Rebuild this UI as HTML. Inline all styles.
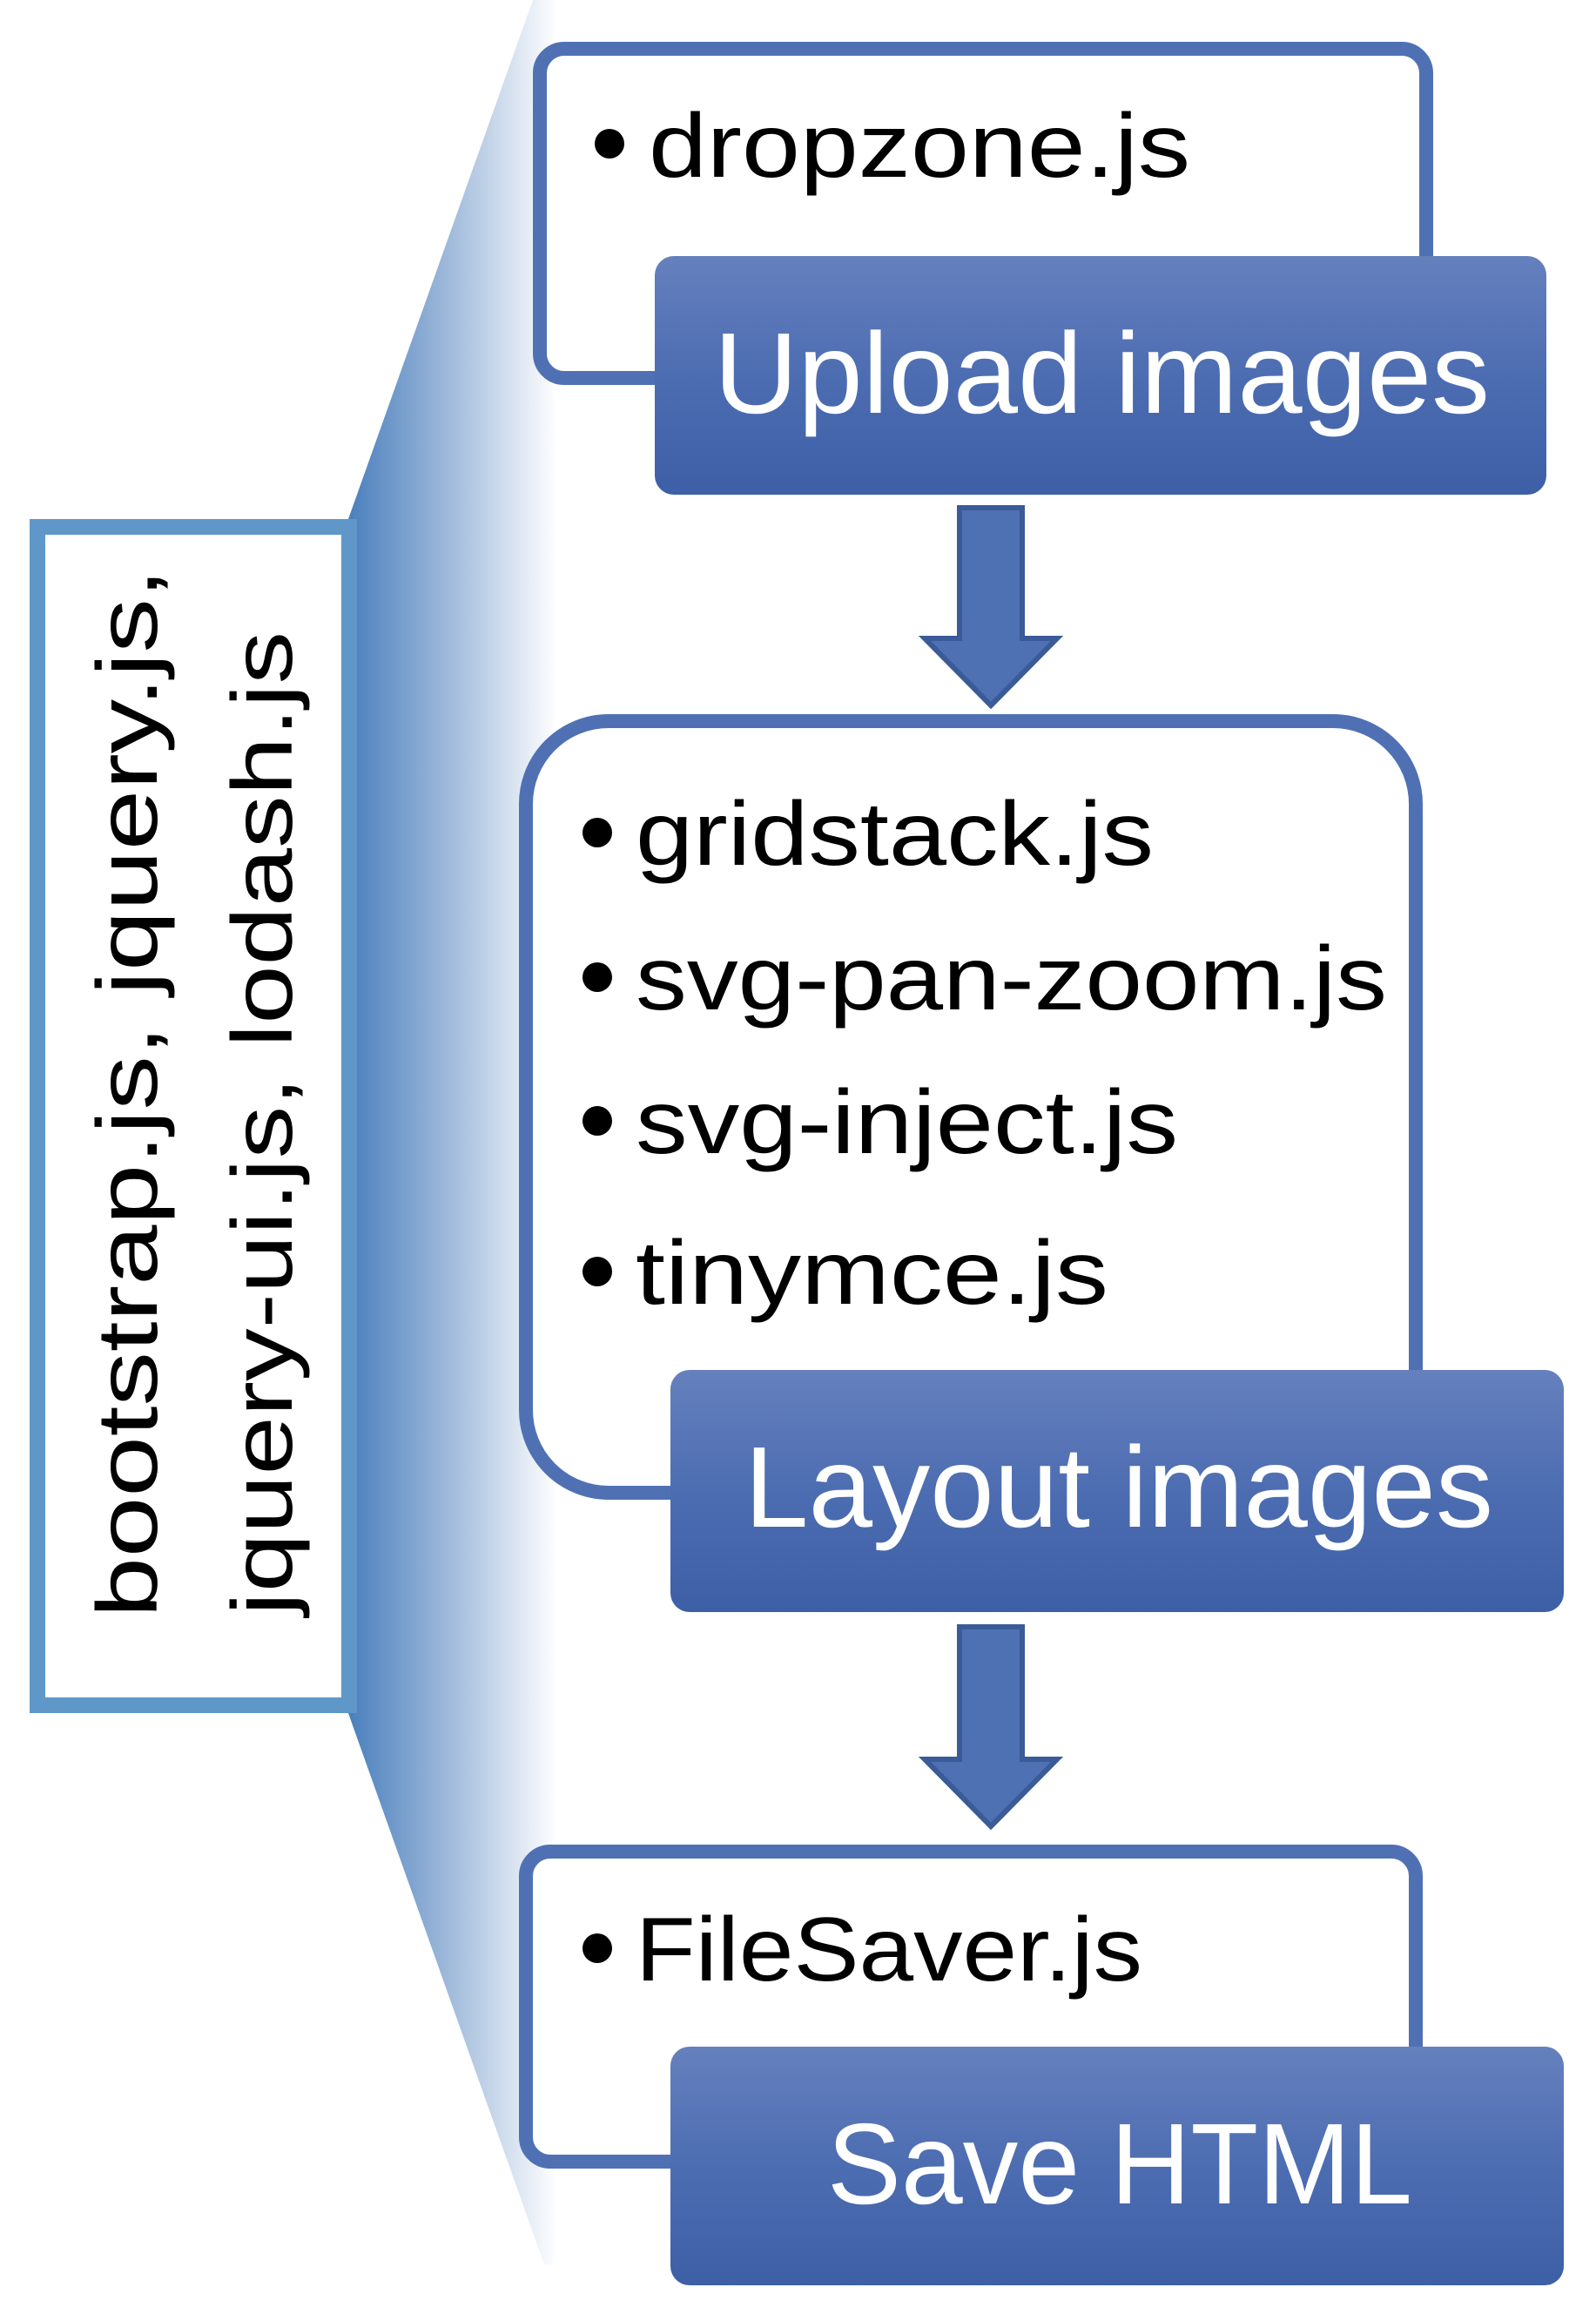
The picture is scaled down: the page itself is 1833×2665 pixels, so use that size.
<!DOCTYPE html>
<html><head><meta charset="utf-8"><style>html,body{margin:0;padding:0;background:#fff}svg{display:block}</style></head>
<body>
<svg width="1833" height="2665" viewBox="0 0 1833 2665" xmlns="http://www.w3.org/2000/svg">
<defs>
<linearGradient id="wedge" x1="0" y1="0" x2="1" y2="0" gradientUnits="objectBoundingBox">
<stop offset="0" stop-color="#4a7fbd"/><stop offset="0.45" stop-color="#9ab6d8"/><stop offset="1" stop-color="#ffffff"/>
</linearGradient>
<linearGradient id="btn" x1="0" y1="0" x2="0" y2="1">
<stop offset="0" stop-color="#6580bd"/><stop offset="0.5" stop-color="#4d6db2"/><stop offset="1" stop-color="#3d5fa6"/>
</linearGradient>
</defs>
<polygon points="400,596 612,0 640,0 640,2600 625,2600 400,1967" fill="url(#wedge)"/>
<rect x="43" y="605" width="358" height="1353" fill="#fff" stroke="#5f97c9" stroke-width="18"/>
<g font-family="Liberation Sans, sans-serif" font-size="98" fill="#000">
<text transform="translate(180,1255) rotate(-90)" text-anchor="middle" textLength="1205" lengthAdjust="spacingAndGlyphs">bootstrap.js, jquery.js,</text>
<text transform="translate(335,1290) rotate(-90)" text-anchor="middle" textLength="1130" lengthAdjust="spacingAndGlyphs">jquery-ui.js, lodash.js</text>
</g>
<rect x="620" y="56" width="1018" height="378" rx="28" fill="#fff" stroke="#4f71b4" stroke-width="16"/>
<rect x="604" y="828" width="1022" height="886" rx="95" fill="#fff" stroke="#4f71b4" stroke-width="16"/>
<rect x="604" y="2126" width="1022" height="356" rx="28" fill="#fff" stroke="#4f71b4" stroke-width="16"/>
<rect x="752" y="294" width="1024" height="274" rx="22" fill="url(#btn)"/>
<rect x="770" y="1573" width="1026" height="278" rx="22" fill="url(#btn)"/>
<rect x="770" y="2350" width="1026" height="274" rx="22" fill="url(#btn)"/>
<g fill="#4e71b3" stroke="#3a5a98" stroke-width="6">
<polygon points="1102,583 1174,583 1174,733 1214,733 1138,810 1062,733 1102,733"/>
<polygon points="1102,1868 1174,1868 1174,2020 1214,2020 1138,2097 1062,2020 1102,2020"/>
</g>
<g font-family="Liberation Sans, sans-serif" font-size="104" fill="#000">
<circle cx="700" cy="165" r="17"/>
<text x="745" y="203" textLength="622" lengthAdjust="spacingAndGlyphs">dropzone.js</text>
<circle cx="686" cy="956" r="17"/>
<text x="730" y="993" textLength="595" lengthAdjust="spacingAndGlyphs">gridstack.js</text>
<circle cx="686" cy="1122" r="17"/>
<text x="730" y="1159" textLength="863" lengthAdjust="spacingAndGlyphs">svg-pan-zoom.js</text>
<circle cx="686" cy="1287" r="17"/>
<text x="730" y="1324" textLength="623" lengthAdjust="spacingAndGlyphs">svg-inject.js</text>
<circle cx="686" cy="1460" r="17"/>
<text x="730" y="1497" textLength="543" lengthAdjust="spacingAndGlyphs">tinymce.js</text>
<circle cx="686" cy="2237" r="17"/>
<text x="730" y="2274" textLength="582" lengthAdjust="spacingAndGlyphs">FileSaver.js</text>
</g>
<g font-family="Liberation Sans, sans-serif" font-size="132" fill="#fff">
<text x="820" y="474" textLength="891" lengthAdjust="spacingAndGlyphs">Upload images</text>
<text x="855" y="1753" textLength="860" lengthAdjust="spacingAndGlyphs">Layout images</text>
<text x="950" y="2530" textLength="672" lengthAdjust="spacingAndGlyphs">Save HTML</text>
</g>
</svg>
</body></html>
